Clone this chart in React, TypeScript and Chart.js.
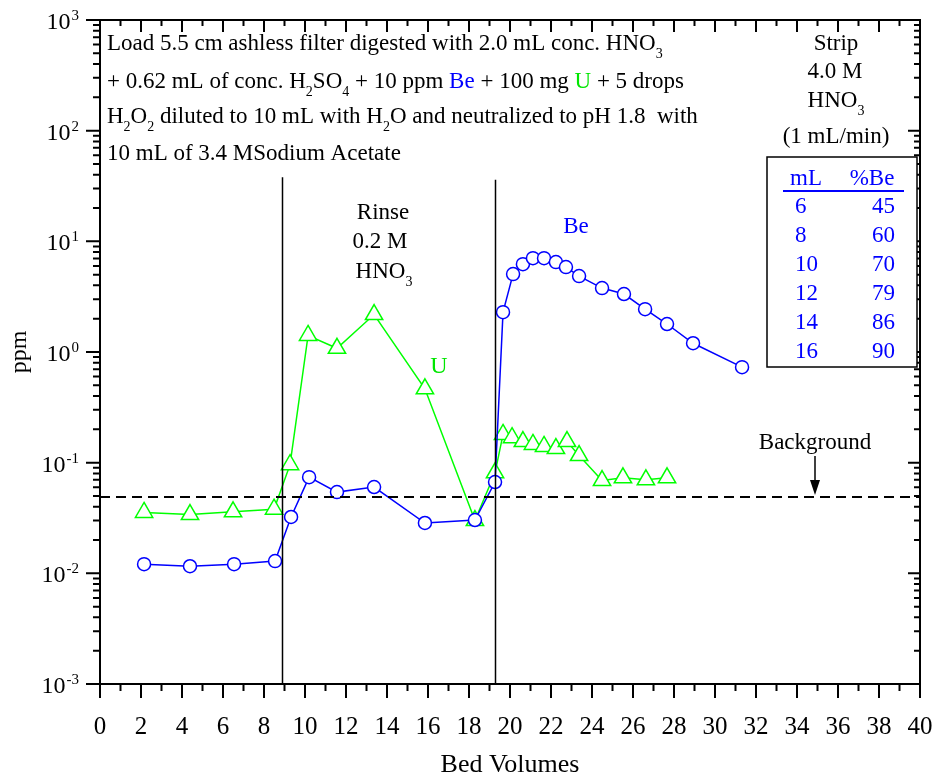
import React, { useEffect, useRef } from "react";
import { Chart, registerables } from "chart.js";

Chart.register(...registerables);

// ---- data ----
const beX = [2.15, 4.39, 6.54, 8.54, 9.32, 10.2, 11.56, 13.37, 15.85, 18.29, 19.27, 19.66, 20.15, 20.63, 21.12, 21.66, 22.24, 22.73, 23.37, 24.49, 25.56, 26.59, 27.66, 28.93, 31.32];
const beY = [0.0121, 0.0116, 0.0121, 0.0129, 0.0323, 0.074, 0.0542, 0.0602, 0.0285, 0.0303, 0.0668, 2.29, 5.06, 6.22, 7.05, 7.05, 6.49, 5.85, 4.85, 3.78, 3.34, 2.44, 1.79, 1.2, 0.73];
const uX = [2.15, 4.39, 6.49, 8.49, 9.27, 10.15, 11.56, 13.37, 15.85, 18.29, 19.27, 19.66, 20.1, 20.63, 21.12, 21.66, 22.24, 22.78, 23.37, 24.49, 25.51, 26.63, 27.66];
const uY = [0.0355, 0.034, 0.036, 0.038, 0.096, 1.41, 1.08, 2.18, 0.465, 0.03, 0.081, 0.18, 0.168, 0.155, 0.146, 0.14, 0.134, 0.155, 0.116, 0.069, 0.073, 0.07, 0.073];
const backgroundLevel = 0.0489;
const boundaryX = [8.88, 19.27];
const boundaryTop = [38, 36];
const xTickValues = [0, 2, 4, 6, 8, 10, 12, 14, 16, 18, 20, 22, 24, 26, 28, 30, 32, 34, 36, 38, 40];
const yExponents = [-3, -2, -1, 0, 1, 2, 3];
const tableML = ["6", "8", "10", "12", "14", "16"];
const tablePctBe = ["45", "60", "70", "79", "86", "90"];

const BLUE = "rgb(0,0,255)";
const GREEN = "rgb(0,230,0)";
const LINEGREEN = "rgb(0,255,0)";
const FONT = "'Liberation Serif', 'Times New Roman', serif";

type Seg = { t: string; s?: "sub" | "sup"; c?: string };

function drawRich(ctx: CanvasRenderingContext2D, segs: Seg[], x: number, y: number, align: "left" | "center" | "right", size: number, color = "#000") {
  const small = Math.round(size * 0.6);
  let total = 0;
  const widths = segs.map((sg) => {
    ctx.font = `${sg.s ? small : size}px ${FONT}`;
    const w = ctx.measureText(sg.t).width;
    total += w;
    return w;
  });
  let cx = align === "center" ? x - total / 2 : align === "right" ? x - total : x;
  ctx.textAlign = "left";
  ctx.textBaseline = "alphabetic";
  segs.forEach((sg, i) => {
    ctx.font = `${sg.s ? small : size}px ${FONT}`;
    ctx.fillStyle = sg.c || color;
    const dy = sg.s === "sub" ? size * 0.33 : sg.s === "sup" ? -size * 0.45 : 0;
    ctx.fillText(sg.t, cx, y + dy);
    cx += widths[i];
  });
}

const decorPlugin = {
  id: "decor",
  afterDatasetsDraw(chart: any) {
    const { ctx, chartArea, scales } = chart;
    const { left, right, top, bottom } = chartArea;
    const xs = scales.x;
    const ys = scales.y;
    ctx.save();

    // background dashed line
    ctx.strokeStyle = "#000";
    ctx.lineWidth = 2;
    ctx.setLineDash([10, 6]);
    const by = ys.getPixelForValue(backgroundLevel);
    ctx.beginPath();
    ctx.moveTo(left, by);
    ctx.lineTo(right, by);
    ctx.stroke();
    ctx.setLineDash([]);

    // boundaries
    ctx.lineWidth = 1.5;
    boundaryX.forEach((bx, i) => {
      const px = Math.round(xs.getPixelForValue(bx)) + 0.5;
      ctx.beginPath();
      ctx.moveTo(px, bottom);
      ctx.lineTo(px, ys.getPixelForValue(boundaryTop[i]));
      ctx.stroke();
    });

    // frame
    ctx.lineWidth = 2;
    ctx.strokeRect(left, top, right - left, bottom - top);

    // x ticks
    ctx.lineWidth = 2;
    for (let v = 0; v <= 40; v++) {
      const px = xs.getPixelForValue(v);
      const major = v % 2 === 0;
      ctx.beginPath();
      ctx.moveTo(px, bottom);
      ctx.lineTo(px, bottom + (major ? 14 : 7));
      ctx.moveTo(px, top);
      ctx.lineTo(px, top + (major ? 12 : 6));
      ctx.stroke();
    }
    // y ticks
    for (let e = -3; e <= 3; e++) {
      for (let m = 1; m <= 9; m++) {
        if (e === 3 && m > 1) break;
        const py = ys.getPixelForValue(m * Math.pow(10, e));
        const major = m === 1;
        ctx.beginPath();
        ctx.moveTo(left, py);
        ctx.lineTo(left - (major ? 14 : 7), py);
        ctx.moveTo(right, py);
        ctx.lineTo(right - (major ? 12 : 6), py);
        ctx.stroke();
      }
    }

    // x tick labels
    ctx.fillStyle = "#000";
    ctx.font = `25px ${FONT}`;
    ctx.textAlign = "center";
    ctx.textBaseline = "alphabetic";
    xTickValues.forEach((v) => {
      ctx.fillText(String(v), xs.getPixelForValue(v), bottom + 50);
    });
    // y tick labels
    yExponents.forEach((e) => {
      const py = ys.getPixelForValue(Math.pow(10, e));
      ctx.font = `15px ${FONT}`;
      const sup = String(e);
      const sw = ctx.measureText(sup).width;
      ctx.textAlign = "left";
      ctx.fillText(sup, 79 - sw, py);
      ctx.font = `24px ${FONT}`;
      ctx.textAlign = "right";
      ctx.fillText("10", 79 - sw - 1, py + 9);
    });

    // axis titles
    ctx.font = `26px ${FONT}`;
    ctx.textAlign = "center";
    ctx.textBaseline = "middle";
    ctx.fillText("Bed Volumes", (left + right) / 2, 765);
    ctx.save();
    ctx.translate(20, (top + bottom) / 2);
    ctx.rotate(-Math.PI / 2);
    ctx.font = `24px ${FONT}`;
    ctx.fillText("ppm", 0, 0);
    ctx.restore();

    // description text
    const s = 23;
    drawRich(ctx, [{ t: "Load 5.5 cm ashless filter digested with 2.0 mL conc. HNO" }, { t: "3", s: "sub" }], 107, 50, "left", s);
    drawRich(ctx, [
      { t: "+ 0.62 mL of conc. H" }, { t: "2", s: "sub" }, { t: "SO" }, { t: "4", s: "sub" },
      { t: " + 10 ppm " }, { t: "Be", c: BLUE }, { t: " + 100 mg " }, { t: "U", c: GREEN }, { t: " + 5 drops" },
    ], 107, 88, "left", s);
    drawRich(ctx, [
      { t: "H" }, { t: "2", s: "sub" }, { t: "O" }, { t: "2", s: "sub" },
      { t: " diluted to 10 mL with H" }, { t: "2", s: "sub" }, { t: "O and neutralized to pH 1.8  with" },
    ], 107, 123, "left", s);
    drawRich(ctx, [{ t: "10 mL of 3.4 MSodium Acetate" }], 107, 160, "left", s);

    // strip
    drawRich(ctx, [{ t: "Strip" }], 836, 50, "center", s);
    drawRich(ctx, [{ t: "4.0 M" }], 835, 78, "center", s);
    drawRich(ctx, [{ t: "HNO" }, { t: "3", s: "sub" }], 836, 107, "center", s);
    drawRich(ctx, [{ t: "(1 mL/min)" }], 836, 143, "center", s);

    // table
    ctx.fillStyle = "#fff";
    ctx.fillRect(767, 157, 150, 210);
    ctx.strokeStyle = "#000";
    ctx.lineWidth = 1.5;
    ctx.strokeRect(767, 157, 150, 210);
    drawRich(ctx, [{ t: "mL" }], 806, 185, "center", s, BLUE);
    drawRich(ctx, [{ t: "%Be" }], 872, 185, "center", s, BLUE);
    ctx.strokeStyle = BLUE;
    ctx.lineWidth = 2;
    ctx.beginPath();
    ctx.moveTo(783, 191);
    ctx.lineTo(904, 191);
    ctx.stroke();
    tableML.forEach((m, i) => {
      const yy = 213 + i * 29;
      drawRich(ctx, [{ t: m }], 795, yy, "left", s, BLUE);
      drawRich(ctx, [{ t: tablePctBe[i] }], 895, yy, "right", s, BLUE);
    });

    // rinse
    drawRich(ctx, [{ t: "Rinse" }], 383, 219, "center", s);
    drawRich(ctx, [{ t: "0.2 M" }], 380, 248, "center", s);
    drawRich(ctx, [{ t: "HNO" }, { t: "3", s: "sub" }], 384, 278, "center", s);

    // series labels
    drawRich(ctx, [{ t: "Be" }], 576, 233, "center", 23, BLUE);
    drawRich(ctx, [{ t: "U" }], 439, 373, "center", 24, GREEN);

    // background label + arrow
    drawRich(ctx, [{ t: "Background" }], 815, 449, "center", s);
    ctx.strokeStyle = "#000";
    ctx.fillStyle = "#000";
    ctx.lineWidth = 1.5;
    ctx.beginPath();
    ctx.moveTo(815, 456);
    ctx.lineTo(815, 485);
    ctx.stroke();
    ctx.beginPath();
    ctx.moveTo(810, 480);
    ctx.lineTo(820, 480);
    ctx.lineTo(815, 495);
    ctx.closePath();
    ctx.fill();

    ctx.restore();
  },
};

export default function App() {
  const ref = useRef<HTMLCanvasElement | null>(null);
  useEffect(() => {
    if (!ref.current) return;
    const chart = new Chart(ref.current, {
      type: "line",
      data: {
        datasets: [
          {
            label: "Be",
            data: beX.map((x, i) => ({ x, y: beY[i] })),
            borderColor: BLUE,
            borderWidth: 1.5,
            pointStyle: "circle",
            pointRadius: 6.5,
            pointBorderWidth: 1.5,
            pointBorderColor: BLUE,
            pointBackgroundColor: "#fff",
            tension: 0,
          },
          {
            label: "U",
            data: uX.map((x, i) => ({ x, y: uY[i] })),
            borderColor: LINEGREEN,
            borderWidth: 1.5,
            pointStyle: "triangle",
            pointRadius: 10,
            pointBorderWidth: 1.5,
            pointBorderColor: LINEGREEN,
            pointBackgroundColor: "#fff",
            tension: 0,
          },
        ],
      },
      options: {
        responsive: false,
        animation: false,
        layout: { padding: { left: 100, right: 13, top: 20, bottom: 93 } },
        plugins: { legend: { display: false }, tooltip: { enabled: false } },
        scales: {
          x: { type: "linear", min: 0, max: 40, display: false },
          y: { type: "logarithmic", min: 1e-3, max: 1e3, display: false },
        },
      },
      plugins: [decorPlugin],
    });
    return () => chart.destroy();
  }, []);
  return (
    <div style={{ position: "fixed", left: 0, top: 0, width: 933, height: 777, background: "#fff" }}>
      <canvas ref={ref} width={933} height={777} style={{ width: 933, height: 777 }} />
    </div>
  );
}
